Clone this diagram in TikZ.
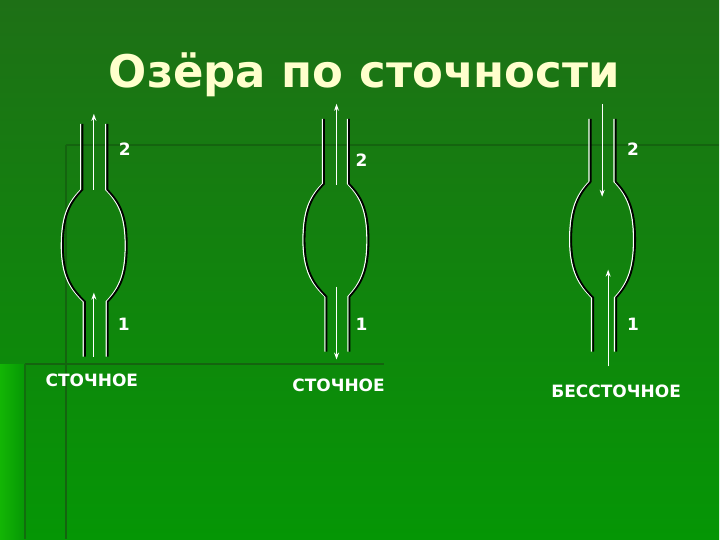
\documentclass[tikz,border=0pt]{standalone}
\usepackage{fontspec}
\setmainfont{DejaVu Sans}
\usetikzlibrary{arrows.meta}
\definecolor{topg}{RGB}{30,112,22}
\definecolor{botg}{RGB}{5,150,5}
\definecolor{brightg}{RGB}{25,195,5}
\definecolor{lineg}{RGB}{20,100,15}
\definecolor{titlec}{RGB}{255,255,204}
\tikzset{
  shore/.style={black,line width=1.8pt},
  shorew/.style={white,line width=1.2pt},
  flow/.style={white,line width=1pt,-{Stealth[length=7pt,width=5pt]}},
  lbl/.style={white,font=\bfseries\fontsize{17}{17}\selectfont},
  num/.style={white,font=\bfseries\fontsize{17}{17}\selectfont},
}
% #1 cx, #2 top, #3 neck1, #4 neck2, #5 bottom
\newcommand{\lakeside}[6]{%
  \pgfmathsetmacro{\lkmid}{(#3+#4)/2}%
  \draw[#6] (#1-12.5,#2) -- (#1-12.5,#3) .. controls ({#1-24},{#3+12}) and ({#1-32},{\lkmid-32}) .. ({#1-32},{\lkmid}) .. controls ({#1-32},{\lkmid+32}) and ({#1-22},{#4-12}) .. ({#1-10},{#4}) -- ({#1-10},{#5});
  \draw[#6] (#1+12.5,#2) -- (#1+12.5,#3) .. controls ({#1+24},{#3+12}) and ({#1+32},{\lkmid-32}) .. ({#1+32},{\lkmid}) .. controls ({#1+32},{\lkmid+32}) and ({#1+24},{#4-12}) .. ({#1+13},{#4}) -- ({#1+13},{#5});
}
\newcommand{\lake}[5]{%
  \begin{scope}[xshift=-1.6pt]\lakeside{#1}{#2}{#3}{#4}{#5}{shorew}\end{scope}
  \lakeside{#1}{#2}{#3}{#4}{#5}{shore}
}
\begin{document}
\begin{tikzpicture}[x=1pt,y=-1pt]
\shade[top color=topg,bottom color=botg] (0,0) rectangle (720,540);
\shade[left color=brightg!70!botg,right color=botg] (0,365) rectangle (26,540);
\draw[lineg,line width=2pt] (66,145) -- (720,145);
\draw[lineg,line width=2pt] (66,145) -- (66,540);
\draw[lineg,line width=2pt] (25,365) -- (385,365);
\draw[lineg!80!botg,line width=1.5pt] (25,365) -- (25,540);
\useasboundingbox (0,0) rectangle (720,540);

\node (title) [text=titlec,font=\bfseries\fontsize{45}{45}\selectfont] at (365,75) {Озёра по сточности};

\lake{95}{124}{190}{302}{357}
\lake{337}{119}{184}{297}{352}
\lake{604}{119}{182}{298}{352}

\coordinate (a1) at (94,190); \coordinate (a2) at (94,114);
\coordinate (b1) at (94,357); \coordinate (b2) at (94,293);
\draw[flow] (a1) -- (a2); \draw[flow] (b1) -- (b2);
\coordinate (c1) at (337,185); \coordinate (c2) at (337,104);
\coordinate (d1) at (337,287); \coordinate (d2) at (337,360);
\draw[flow] (c1) -- (c2); \draw[flow] (d1) -- (d2);
\coordinate (e1) at (603,104); \coordinate (e2) at (603,197);
\coordinate (f1) at (609,367); \coordinate (f2) at (609,270);
\draw[flow] (e1) -- (e2); \draw[flow] (f1) -- (f2);

\node (n12) [num] at (125,149) {2};
\node (n11) [num] at (124,325) {1};
\node (n22) [num] at (362,160) {2};
\node (n21) [num] at (362,325) {1};
\node (n32) [num] at (634,149) {2};
\node (n31) [num] at (634,325) {1};

\node (l1) [lbl] at (92,381) {СТОЧНОЕ};
\node (l2) [lbl] at (339,386) {СТОЧНОЕ};
\node (l3) [lbl] at (617,392) {БЕССТОЧНОЕ};
\end{tikzpicture}
\end{document}
